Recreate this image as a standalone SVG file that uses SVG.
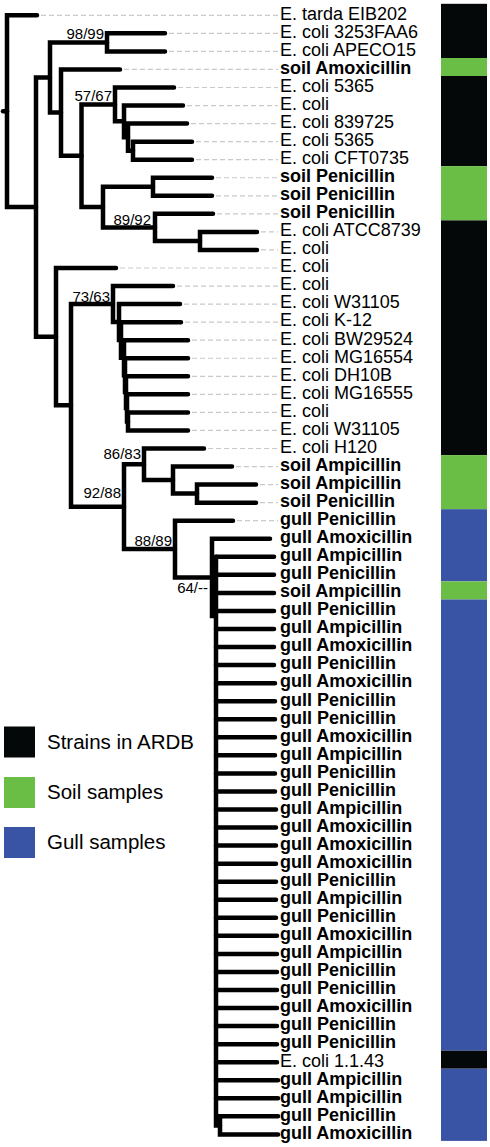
<svg xmlns="http://www.w3.org/2000/svg" width="490" height="1147" viewBox="0 0 490 1147">
<style>
.br{fill:none;stroke:#000;stroke-width:4.5;stroke-linejoin:miter;stroke-linecap:round}
.ld{fill:none;stroke:#c9c9c9;stroke-width:1.2;stroke-dasharray:5 3}
.lb{font-family:"Liberation Sans",Arial,sans-serif;font-size:18px;fill:#000}
.b{font-weight:bold}
.bs{font-family:"Liberation Sans",Arial,sans-serif;font-size:15px;fill:#000;text-anchor:end}
.lg{font-family:"Liberation Sans",Arial,sans-serif;font-size:20.5px;fill:#000}
.k{fill:#050808}.g{fill:#6abd45}.u{fill:#3953a5}
</style>
<rect width="490" height="1147" fill="#fff"/>
<g id="leaders">
<path class="ld" d="M41 15.3H278M169 33.35H278M169 51.4H278M124 69.45H278M178 87.5H278M187 105.55H278M191 123.6H278M196 141.65H278M196 159.7H278M216 177.75H278M216 195.8H278M217 213.85H278M261 231.9H278M261 249.95H278M120 268H278M177 286.05H278M184 304.1H278M185 322.15H278M192 340.2H278M192 358.25H278M192 376.3H278M192 394.35H278M192 412.4H278M192 430.45H278M208 448.5H278M236 466.55H278M260 484.6H278M260 502.65H278M237 520.7H278"/>
</g>
<g id="connectors">
<path class="br" d="M3 111.2H7"/>
<path class="br" d="M37 15.3H7V207.1H36"/>
<path class="br" d="M50 77.5H36V336.7H56"/>
<path class="br" d="M107 42.4H50V112.6H61"/>
<path class="br" d="M165 33.35H107V51.4H165"/>
<path class="br" d="M120 69.45H61V155.75H81.5"/>
<path class="br" d="M115 104.4H81.5V207.1H103"/>
<path class="br" d="M174 87.5H115V121.35H124"/>
<path class="br" d="M183 105.55H124V137.15H128"/>
<path class="br" d="M187 123.6H128V150.7H133"/>
<path class="br" d="M192 141.65H133V159.7H192"/>
<path class="br" d="M153 186.8H103V227.4H155"/>
<path class="br" d="M212 177.75H153V195.8H212"/>
<path class="br" d="M213 213.85H155V240.9H200"/>
<path class="br" d="M257 231.9H200V249.95H257"/>
<path class="br" d="M116 268H56V405.35H71"/>
<path class="br" d="M113 304H71V506.7H124"/>
<path class="br" d="M173 286.05H113V322H119"/>
<path class="br" d="M180 304.1H119V339.9H121"/>
<path class="br" d="M181 322.15H121V357.7H124"/>
<path class="br" d="M188 340.2H124V375.2H125"/>
<path class="br" d="M188 358.25H125V392.1H126"/>
<path class="br" d="M188 376.3H126V407.9H127"/>
<path class="br" d="M188 394.35H127V421.4H128"/>
<path class="br" d="M188 412.4H128V430.45H188"/>
<path class="br" d="M144 464.3H124V549.05H175"/>
<path class="br" d="M204 448.5H144V480.1H173"/>
<path class="br" d="M232 466.55H173V493.6H197"/>
<path class="br" d="M256 484.6H197V502.65H256"/>
<path class="br" d="M233 520.7H175V577.4H212"/>
<path class="br" d="M270 538.75H212V616H216"/>
<path class="br" d="M216 556.8V1125.4H220"/>
<path class="br" d="M278 1116.35H220V1134.4H278"/>
<path class="br" d="M216 556.8H274M216 574.85H274M216 592.9H274M216 610.95H274M216 629H274M216 647.05H274M216 665.1H274M216 683.15H275M216 701.2H275M216 719.25H275M216 737.3H275M216 755.35H275M216 773.4H275M216 791.45H275M216 809.5H276M216 827.55H276M216 845.6H276M216 863.65H276M216 881.7H276M216 899.75H276M216 917.8H276M216 935.85H277M216 953.9H277M216 971.95H277M216 990H277M216 1008.05H277M216 1026.1H277M216 1044.15H277M216 1062.2H277M216 1080.25H278M216 1098.3H278"/>
</g>
<g id="support-values">
<text class="bs" x="104" y="39">98/99</text>
<text class="bs" x="112" y="101">57/67</text>
<text class="bs" x="151" y="225">89/92</text>
<text class="bs" x="110" y="302">73/63</text>
<text class="bs" x="141" y="459">86/83</text>
<text class="bs" x="121" y="498">92/88</text>
<text class="bs" x="172" y="546">88/89</text>
<text class="bs" x="208" y="593">64/--</text>
</g>
<g id="leaves">
<g id="leaf01"><text class="lb" x="280" y="19.6">E. tarda EIB202</text></g>
<g id="leaf02"><text class="lb" x="280" y="37.6">E. coli 3253FAA6</text></g>
<g id="leaf03"><text class="lb" x="280" y="55.7">E. coli APECO15</text></g>
<g id="leaf04"><text class="lb b" x="280" y="73.7">soil Amoxicillin</text></g>
<g id="leaf05"><text class="lb" x="280" y="91.8">E. coli 5365</text></g>
<g id="leaf06"><text class="lb" x="280" y="109.8">E. coli</text></g>
<g id="leaf07"><text class="lb" x="280" y="127.9">E. coli 839725</text></g>
<g id="leaf08"><text class="lb" x="280" y="145.9">E. coli 5365</text></g>
<g id="leaf09"><text class="lb" x="280" y="164">E. coli CFT0735</text></g>
<g id="leaf10"><text class="lb b" x="280" y="182">soil Penicillin</text></g>
<g id="leaf11"><text class="lb b" x="280" y="200.1">soil Penicillin</text></g>
<g id="leaf12"><text class="lb b" x="280" y="218.1">soil Penicillin</text></g>
<g id="leaf13"><text class="lb" x="280" y="236.2">E. coli ATCC8739</text></g>
<g id="leaf14"><text class="lb" x="280" y="254.2">E. coli</text></g>
<g id="leaf15"><text class="lb" x="280" y="272.3">E. coli</text></g>
<g id="leaf16"><text class="lb" x="280" y="290.3">E. coli</text></g>
<g id="leaf17"><text class="lb" x="280" y="308.4">E. coli W31105</text></g>
<g id="leaf18"><text class="lb" x="280" y="326.4">E. coli K-12</text></g>
<g id="leaf19"><text class="lb" x="280" y="344.5">E. coli BW29524</text></g>
<g id="leaf20"><text class="lb" x="280" y="362.5">E. coli MG16554</text></g>
<g id="leaf21"><text class="lb" x="280" y="380.6">E. coli DH10B</text></g>
<g id="leaf22"><text class="lb" x="280" y="398.6">E. coli MG16555</text></g>
<g id="leaf23"><text class="lb" x="280" y="416.7">E. coli</text></g>
<g id="leaf24"><text class="lb" x="280" y="434.7">E. coli W31105</text></g>
<g id="leaf25"><text class="lb" x="280" y="452.8">E. coli H120</text></g>
<g id="leaf26"><text class="lb b" x="280" y="470.8">soil Ampicillin</text></g>
<g id="leaf27"><text class="lb b" x="280" y="488.9">soil Ampicillin</text></g>
<g id="leaf28"><text class="lb b" x="280" y="506.9">soil Penicillin</text></g>
<g id="leaf29"><text class="lb b" x="280" y="525">gull Penicillin</text></g>
<g id="leaf30"><text class="lb b" x="280" y="543">gull Amoxicillin</text></g>
<g id="leaf31"><text class="lb b" x="280" y="561.1">gull Ampicillin</text></g>
<g id="leaf32"><text class="lb b" x="280" y="579.1">gull Penicillin</text></g>
<g id="leaf33"><text class="lb b" x="280" y="597.2">soil Ampicillin</text></g>
<g id="leaf34"><text class="lb b" x="280" y="615.2">gull Penicillin</text></g>
<g id="leaf35"><text class="lb b" x="280" y="633.3">gull Ampicillin</text></g>
<g id="leaf36"><text class="lb b" x="280" y="651.3">gull Amoxicillin</text></g>
<g id="leaf37"><text class="lb b" x="280" y="669.4">gull Penicillin</text></g>
<g id="leaf38"><text class="lb b" x="280" y="687.4">gull Amoxicillin</text></g>
<g id="leaf39"><text class="lb b" x="280" y="705.5">gull Penicillin</text></g>
<g id="leaf40"><text class="lb b" x="280" y="723.5">gull Penicillin</text></g>
<g id="leaf41"><text class="lb b" x="280" y="741.6">gull Amoxicillin</text></g>
<g id="leaf42"><text class="lb b" x="280" y="759.6">gull Ampicillin</text></g>
<g id="leaf43"><text class="lb b" x="280" y="777.7">gull Penicillin</text></g>
<g id="leaf44"><text class="lb b" x="280" y="795.7">gull Penicillin</text></g>
<g id="leaf45"><text class="lb b" x="280" y="813.8">gull Ampicillin</text></g>
<g id="leaf46"><text class="lb b" x="280" y="831.8">gull Amoxicillin</text></g>
<g id="leaf47"><text class="lb b" x="280" y="849.9">gull Amoxicillin</text></g>
<g id="leaf48"><text class="lb b" x="280" y="867.9">gull Amoxicillin</text></g>
<g id="leaf49"><text class="lb b" x="280" y="886">gull Penicillin</text></g>
<g id="leaf50"><text class="lb b" x="280" y="904">gull Ampicillin</text></g>
<g id="leaf51"><text class="lb b" x="280" y="922.1">gull Penicillin</text></g>
<g id="leaf52"><text class="lb b" x="280" y="940.1">gull Amoxicillin</text></g>
<g id="leaf53"><text class="lb b" x="280" y="958.2">gull Ampicillin</text></g>
<g id="leaf54"><text class="lb b" x="280" y="976.2">gull Penicillin</text></g>
<g id="leaf55"><text class="lb b" x="280" y="994.3">gull Penicillin</text></g>
<g id="leaf56"><text class="lb b" x="280" y="1012.3">gull Amoxicillin</text></g>
<g id="leaf57"><text class="lb b" x="280" y="1030.4">gull Penicillin</text></g>
<g id="leaf58"><text class="lb b" x="280" y="1048.4">gull Penicillin</text></g>
<g id="leaf59"><text class="lb" x="280" y="1066.5">E. coli 1.1.43</text></g>
<g id="leaf60"><text class="lb b" x="280" y="1084.5">gull Ampicillin</text></g>
<g id="leaf61"><text class="lb b" x="280" y="1102.6">gull Ampicillin</text></g>
<g id="leaf62"><text class="lb b" x="280" y="1120.6">gull Penicillin</text></g>
<g id="leaf63"><text class="lb b" x="280" y="1138.7">gull Amoxicillin</text></g>
</g>
<g id="color-bar">
<rect class="k" x="441" y="3.8" width="46" height="54.2"/>
<rect class="g" x="441" y="58" width="46" height="18"/>
<rect class="k" x="441" y="76" width="46" height="90.2"/>
<rect class="g" x="441" y="166.2" width="46" height="54.2"/>
<rect class="k" x="441" y="220.4" width="46" height="234.7"/>
<rect class="g" x="441" y="455.1" width="46" height="54.1"/>
<rect class="u" x="441" y="509.2" width="46" height="72.2"/>
<rect class="g" x="441" y="581.4" width="46" height="18.1"/>
<rect class="u" x="441" y="599.5" width="46" height="451.2"/>
<rect class="k" x="441" y="1050.7" width="46" height="18"/>
<rect class="u" x="441" y="1068.7" width="46" height="72.2"/>
</g>
<g id="legend">
<g id="legend-ardb"><rect class="k" x="4" y="726.5" width="31" height="31"/><text class="lg" x="47" y="748.5">Strains in ARDB</text></g>
<g id="legend-soil"><rect class="g" x="4" y="777" width="31" height="31"/><text class="lg" x="47" y="799">Soil samples</text></g>
<g id="legend-gull"><rect class="u" x="4" y="827" width="31" height="31"/><text class="lg" x="47" y="849">Gull samples</text></g>
</g>
</svg>
